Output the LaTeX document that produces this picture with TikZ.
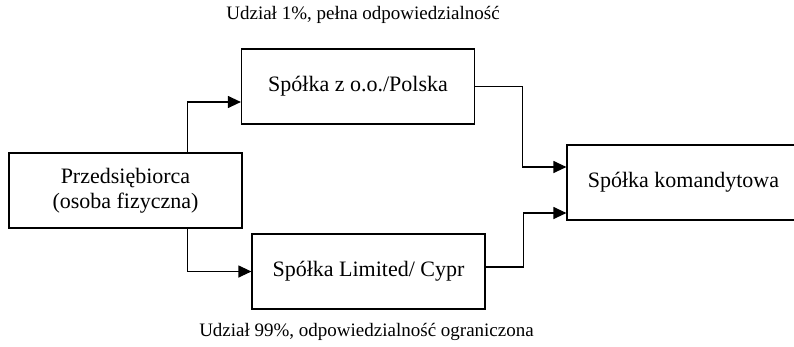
\documentclass[tikz,border=0pt]{standalone}
\usepackage{fontspec}
\setmainfont{Liberation Serif}
\usetikzlibrary{arrows.meta}

\begin{document}
\begin{tikzpicture}[x=1pt, y=-1pt,
    box/.style={draw, line width=1.2pt, minimum width=233pt, minimum height=75pt,
                inner sep=0pt, align=center, font=\fontsize{22}{25}\selectfont},
    arr/.style={line width=1.2pt, -{Triangle[length=13pt,width=12pt]}},
    note/.style={font=\fontsize{19}{22}\selectfont}]
    \useasboundingbox (0,0) rectangle (794,346);
    \node[box] (firma) at (125.5,190.5) {Przedsiębiorca\\(osoba fizyczna)};
    \node[box] (polska) at (358,86.5) {Spółka z o.o./Polska};
    \node[box] (cypr) at (368.5,271.5) {Spółka Limited/ Cypr};
    \node[box] (komandyt) at (683.5,182.5) {Spółka komandytowa};
    \node[note] (udzial1) at (363,15) {Udział 1\%, pełna odpowiedzialność};
    \node[note] (udzial99) at (366.5,332) {Udział 99\%, odpowiedzialność ograniczona};
    % strzalki
    \draw[arr] ([xshift=-55pt]firma.north east) |- ([yshift=-15.5pt]polska.west);
    \draw[arr] ([xshift=-55pt]firma.south east) |- (cypr.west);
    \draw[arr] (polska.east) -- ++(47,0) |- ([yshift=15.5pt]komandyt.west);
    \draw[arr] ([yshift=4.5pt]cypr.east) -- ++(38,0) |- ([yshift=-30.5pt]komandyt.west);
\end{tikzpicture}
\end{document}
